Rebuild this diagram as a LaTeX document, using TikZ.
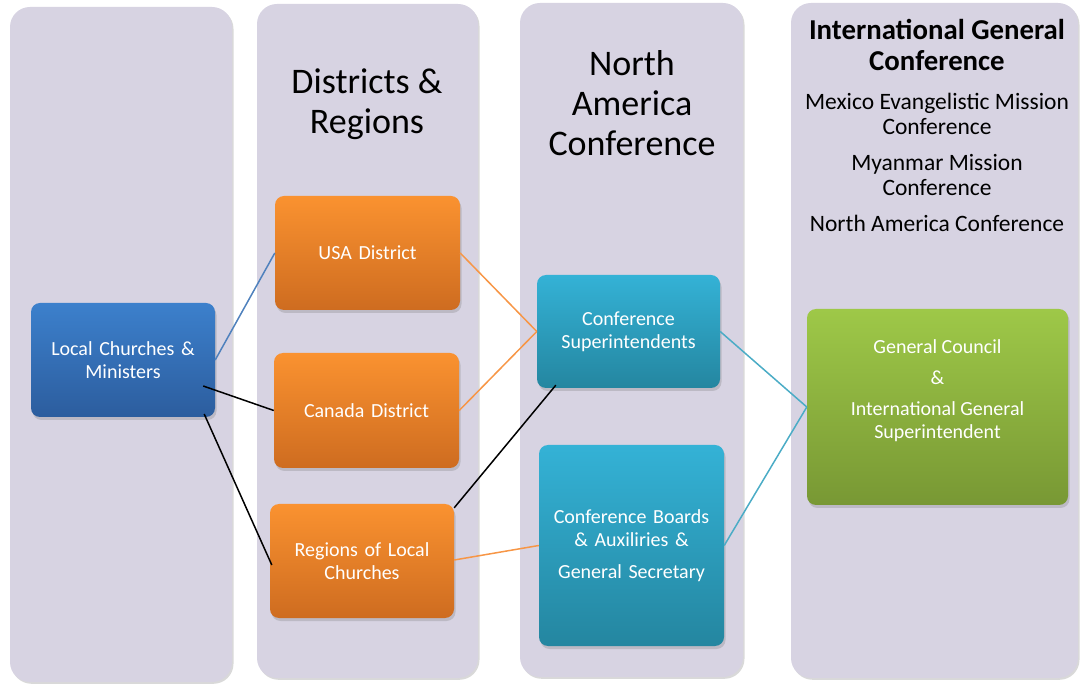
\documentclass[tikz,border=0pt]{standalone}
\usepackage{fontspec}
\setmainfont{Carlito}
\usetikzlibrary{shadows,calc}
\definecolor{colbg}{RGB}{215,211,226}
\definecolor{bluetop}{RGB}{60,128,204}
\definecolor{bluebot}{RGB}{44,93,158}
\definecolor{orgtop}{RGB}{250,146,48}
\definecolor{orgbot}{RGB}{206,108,32}
\definecolor{cyantop}{RGB}{52,178,214}
\definecolor{cyanbot}{RGB}{36,134,160}
\definecolor{grntop}{RGB}{158,200,72}
\definecolor{grnbot}{RGB}{120,152,52}
\definecolor{lblue}{RGB}{79,129,189}
\definecolor{lorg}{RGB}{247,150,70}
\definecolor{lcyan}{RGB}{75,172,198}
\begin{document}
\begin{tikzpicture}[x=1pt,y=-1pt,
  column/.style={fill=colbg, rounded corners=20pt,
    drop shadow={shadow xshift=1.5pt, shadow yshift=-1.8pt, opacity=0.3}},
  box/.style={rounded corners=9pt, inner sep=4pt, align=center, text=white,
    font=\fontsize{20}{23}\selectfont,
    drop shadow={shadow xshift=1.5pt, shadow yshift=-3pt, opacity=0.3}},
  bluebox/.style={box, top color=bluetop, bottom color=bluebot},
  orgbox/.style={box, top color=orgtop, bottom color=orgbot},
  cyanbox/.style={box, top color=cyantop, bottom color=cyanbot},
  grnbox/.style={box, top color=grntop, bottom color=grnbot},
  heading/.style={align=center, text=black, font=\fontsize{36}{40}\selectfont},
  bheading/.style={align=center, text=black, font=\fontsize{28.8}{31}\selectfont\bfseries},
  subtext/.style={align=center, text=black, font=\fontsize{23.5}{25}\selectfont},
  conn/.style={line width=1.5pt}
]
\useasboundingbox (0,0) rectangle (1080,684);
% columns
\path[column] (10,7) rectangle (232,682);
\path[column] (257,4) rectangle (478,678);
\path[column] (520,3) rectangle (743,677);
\path[column] (791,3) rectangle (1078,678);
% headings
\node[heading] (h2) at (367,104) {Districts \&\\Regions};
\node[heading] (h3) at (632,103) {North\\America\\Conference};
\node[bheading] (h4) at (937,44.5) {International General\\Conference};
\node[subtext] (m1) at (937,113.5) {Mexico Evangelistic Mission\\Conference};
\node[subtext] (m2) at (937,174.5) {Myanmar Mission\\Conference};
\node[subtext] (m3) at (937,223) {North America Conference};
% boxes
\node[bluebox, minimum width=184pt, minimum height=114pt, text width=172pt] (local) at (123,360) {Local Churches \&\\Ministers};
\node[orgbox, minimum width=185pt, minimum height=114pt, text width=172pt] (usa) at (367.5,253) {USA District};
\node[orgbox, minimum width=185pt, minimum height=115pt, text width=172pt] (canada) at (366.5,410.5) {Canada District};
\node[orgbox, minimum width=184pt, minimum height=114pt, text width=172pt] (regions) at (362,561) {Regions of Local\\Churches};
\node[cyanbox, minimum width=183pt, minimum height=113pt, text width=172pt] (confsup) at (628.5,331.5) {Conference\\Superintendents};
\node[cyanbox, minimum width=185pt, minimum height=201pt, text width=172pt] (boards) at (631.5,545.5) {Conference Boards\\\& Auxiliries \&\\[9pt]General Secretary};
\node[grnbox, minimum width=261pt, minimum height=196pt] (gc) at (937.5,407) {};
\node[align=center, text=white, font=\fontsize{20}{23}\selectfont] (gctext) at (937.5,391) {General Council\\[8pt]\&\\[8pt]International General\\Superintendent};
% connectors
\draw[conn, lblue] (local.east) -- (usa.west);
\draw[conn, black] ([xshift=-12pt,yshift=-26pt]local.east) -- (canada.west);
\draw[conn, black] ([xshift=-11pt,yshift=-54pt]local.east) -- ([xshift=2pt,yshift=-4pt]regions.west);
\draw[conn, lorg] (usa.east) -- (confsup.west);
\draw[conn, lorg] (canada.east) -- (confsup.west);
\draw[conn, black] ([yshift=-4pt]regions.north east) -- ([xshift=19pt,yshift=3pt]confsup.south west);
\draw[conn, lorg] ([yshift=1pt]regions.east) -- (boards.west);
\draw[conn, lcyan] (confsup.east) -- (gc.west);
\draw[conn, lcyan] (boards.east) -- (gc.west);
\end{tikzpicture}
\end{document}
